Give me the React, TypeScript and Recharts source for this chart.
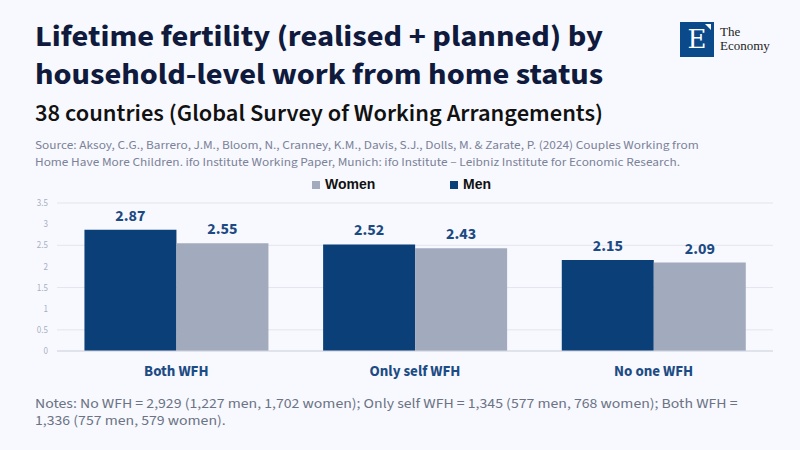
import React from "react";
import { BarChart, Bar, XAxis, YAxis, CartesianGrid, LabelList } from "recharts";

const categories = ["Both WFH", "Only self WFH", "No one WFH"];
const menValues = [2.87, 2.52, 2.15];
const womenValues = [2.55, 2.43, 2.09];
const yTicks = [0, 0.5, 1, 1.5, 2, 2.5, 3, 3.5];

const titleLines = ["Lifetime fertility (realised + planned) by", "household-level work from home status"];
const subtitle = "38 countries (Global Survey of Working Arrangements)";
const sourceLines = [
  "Source: Aksoy, C.G., Barrero, J.M., Bloom, N., Cranney, K.M., Davis, S.J., Dolls, M. & Zarate, P. (2024) Couples Working from",
  "Home Have More Children. ifo Institute Working Paper, Munich: ifo Institute – Leibniz Institute for Economic Research.",
];
const noteLines = [
  "Notes: No WFH = 2,929 (1,227 men, 1,702 women); Only self WFH = 1,345 (577 men, 768 women); Both WFH =",
  "1,336 (757 men, 579 women).",
];

const data = categories.map((c, i) => ({ name: c, men: menValues[i], women: womenValues[i] }));

const MEN = "#0b3f78";
const WOMEN = "#a2aabd";
const BG = "#f8f9fe";
const SANS = "'Source Sans Pro', 'Source Sans 3', Lato, 'Noto Sans', sans-serif";

const legendItems = [
  { label: "Women", color: WOMEN },
  { label: "Men", color: MEN },
];

function Lines({ lines, top, step, style }: { lines: string[]; top: number; step: number; style: React.CSSProperties }) {
  return (
    <>
      {lines.map((l, i) => (
        <div key={i} style={{ position: "absolute", left: 35, top: top + i * step, whiteSpace: "nowrap", transformOrigin: "0 0", ...style }}>
          {l}
        </div>
      ))}
    </>
  );
}

function LegendBox() {
  return (
    <div style={{ position: "absolute", left: 312, top: 176, display: "flex", fontFamily: "'Liberation Sans', Arial, sans-serif", fontWeight: 700, fontSize: 14, color: "#111", lineHeight: "17px" }}>
      {legendItems.map((it) => (
        <div key={it.label} style={{ display: "flex", alignItems: "center", width: it.label === "Women" ? 138 : 42 }}>
          <span style={{ display: "inline-block", width: 8, height: 8, background: it.color, marginRight: 5 }} />
          <span>{it.label}</span>
        </div>
      ))}
    </div>
  );
}

export default function App() {
  return (
    <div style={{ position: "absolute", left: 0, top: 0, width: 800, height: 450, background: BG, overflow: "hidden", fontFamily: SANS }}>
      <Lines lines={titleLines} top={19} step={38} style={{ fontSize: 30, fontWeight: 700, lineHeight: "36px", color: "#0f1a3c", transform: "scaleX(1.083)" }} />
      <Lines lines={[subtitle]} top={99} step={0} style={{ fontSize: 24.5, fontWeight: 600, color: "#111", lineHeight: "30px" }} />
      <Lines lines={sourceLines} top={138} step={17} style={{ fontSize: 12.2, color: "#7b8299", lineHeight: "15px", transform: "scaleX(1.09)" }} />

      {/* logo */}
      <div style={{ position: "absolute", left: 680, top: 22, width: 34, height: 35, background: "#0b4a8a" }}>
        <div style={{ position: "absolute", left: 0, top: 2, width: 34, textAlign: "center", color: "#fff", fontFamily: "'DejaVu Serif', 'Liberation Serif', serif", fontSize: 26, lineHeight: "31px" }}>E</div>
        <div style={{ position: "absolute", right: 3, top: 2, width: 0, height: 0, borderTop: "6px solid #fff", borderLeft: "6px solid transparent" }} />
      </div>
      <div style={{ position: "absolute", left: 720, top: 25, fontFamily: "'Liberation Serif', serif", fontSize: 13, lineHeight: "14px", color: "#222" }}>
        <div>The</div>
        <div>Economy</div>
      </div>

      <LegendBox />

      <div style={{ position: "absolute", left: 0, top: 195 }}>
        <BarChart width={800} height={190} data={data} margin={{ top: 8, right: 27, bottom: 0, left: 0 }} barCategoryGap="11.5%" barGap={0}>
          <CartesianGrid vertical={false} stroke="#e2e5ed" />
          <XAxis
            dataKey="name"
            tickLine={false}
            axisLine={{ stroke: "#d3d7e0" }}
            height={34}
            tickMargin={8}
            tick={{ fill: "#1d4c84", fontSize: 15, fontWeight: 700, fontFamily: SANS }}
          />
          <YAxis
            domain={[0, 3.5]}
            ticks={yTicks}
            width={57}
            tickSize={0}
            tickMargin={9}
            axisLine={false}
            tickLine={false}
            tick={{ fill: "#a9afc0", fontSize: 9, fontFamily: SANS }}
          />
          <Bar dataKey="men" name="Men" fill={MEN} isAnimationActive={false}>
            <LabelList dataKey="men" position="top" offset={9} fill="#1c4a82" fontSize={16} fontWeight={700} fontFamily={SANS} formatter={(v: any) => Number(v).toFixed(2)} />
          </Bar>
          <Bar dataKey="women" name="Women" fill={WOMEN} isAnimationActive={false}>
            <LabelList dataKey="women" position="top" offset={9} fill="#1c4a82" fontSize={16} fontWeight={700} fontFamily={SANS} formatter={(v: any) => Number(v).toFixed(2)} />
          </Bar>
        </BarChart>
      </div>

      <Lines lines={noteLines} top={396} step={17} style={{ fontSize: 13.5, color: "#6b7385", lineHeight: "16px", transform: "scaleX(1.165)" }} />
    </div>
  );
}
